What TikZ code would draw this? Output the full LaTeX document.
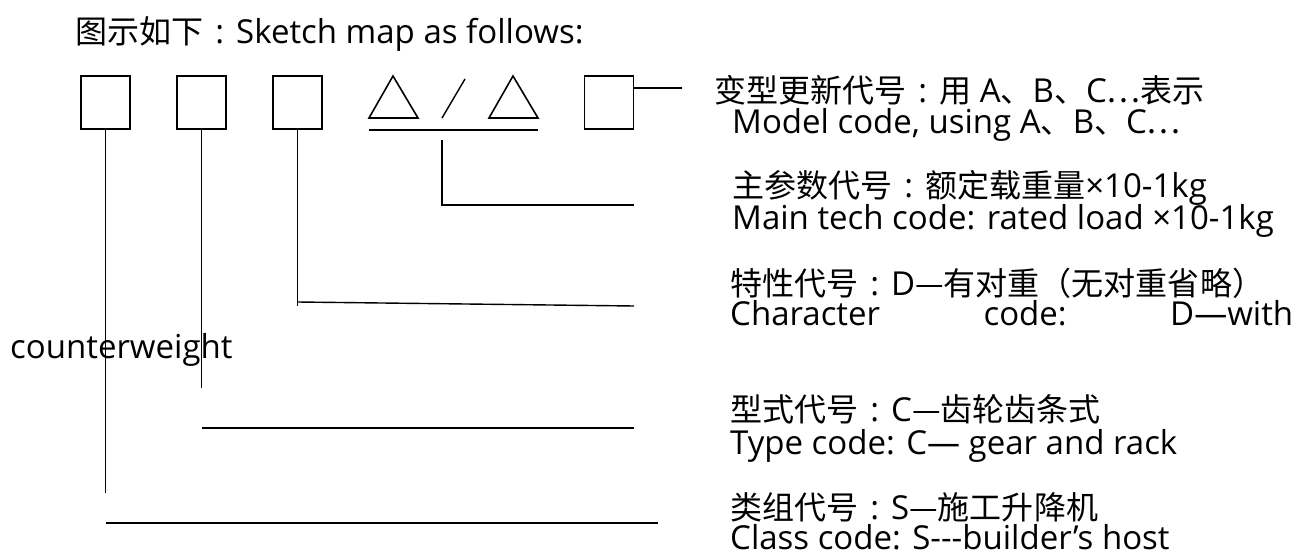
\documentclass[tikz,border=0pt]{standalone}
\usepackage{fontspec}
\setmainfont{Open Sans}
\newfontfamily\cjk{Noto Sans CJK SC}[Scale=0.97]
\newcommand{\cc}{\makebox[1em]{:}}
\begin{document}
\begin{tikzpicture}[x=1pt,y=-1pt,
  codebox/.style={draw,line width=1.6pt,minimum width=49pt,minimum height=53pt,inner sep=0pt},
  lead/.style={line width=1.4pt},
  txt/.style={anchor=base west,inner sep=0pt,font=\fontsize{33}{37}\selectfont}]
\useasboundingbox (0,0) rectangle (1310,556);
% title
\node[txt] (title) at (75,44) {{\cjk 图示如下}\cc Sketch map as follows:};
% code boxes
\node[codebox] (b1) at (105.5,102.5) {};
\node[codebox] (b2) at (201.5,102.5) {};
\node[codebox] (b3) at (297.5,102.5) {};
\node[codebox] (b4) at (609,102.5) {};
% triangles, slash, underline
\draw[line width=1.6pt,line join=miter] (369,118) -- (393,76) -- (418,118) -- cycle;
\draw[line width=1.6pt,line join=miter] (489,118) -- (513,76) -- (538,118) -- cycle;
\draw[lead] (442,118) -- (465,79);
\coordinate (ul1) at (369,130);
\coordinate (ul2) at (538,130);
\draw[line width=1.6pt] (ul1) -- (ul2);
% leader ends
\coordinate (e4) at (682,88);
\coordinate (m1) at (442,140);
\coordinate (m2) at (442,205);
\coordinate (m3) at (634,205);
\coordinate (c2) at (297.5,306);
\coordinate (c3) at (634,306);
\coordinate (c1) at (297.5,302);
\coordinate (d1) at (201.5,388);
\coordinate (d2) at (201.5,428);
\coordinate (d3) at (634,428);
\coordinate (f1) at (105.5,493);
\coordinate (f2) at (105.5,523);
\coordinate (f3) at (658,523);
% connectors
\draw[lead] (b4.east |- e4) -- (e4);
\draw[lead] (m1) -- (m2) -- (m3);
\draw[lead] (b3.south) -- (c2);
\draw[lead] (c1) -- (c3);
\draw[lead] (b2.south) -- (d1);
\draw[lead] (d2) -- (d3);
\draw[lead] (b1.south) -- (f1);
\draw[lead] (f2) -- (f3);
% texts
\node[txt] (l1a) at (714,103) {{\cjk 变型更新代号}\cc{\cjk 用} A{\cjk 、}B{\cjk 、}C{\cjk …表示}};
\node[txt] (l1b) at (732,134) {Model code, using A{\cjk 、}B{\cjk 、}C{\cjk …}};
\node[txt] (l2a) at (732,198) {{\cjk 主参数代号}\cc{\cjk 额定载重量}×10-1kg};
\node[txt] (l2b) at (732,230) {Main tech code: rated load ×10-1kg};
\node[txt] (l3a) at (730,296) {{\cjk 特性代号}\cc D{\cjk —有对重（无对重省略）}};
\node[txt] (l3b) at (730,326) {\hbox to 563pt{Character\hfil code:\hfil D—with}};
\node[txt] (cw) at (10,358) {counterweight};
\node[txt] (l4a) at (730,421) {{\cjk 型式代号}\cc C{\cjk —齿轮齿条式}};
\node[txt] (l4b) at (730,454) {Type code: C— gear and rack};
\node[txt] (l5a) at (730,519) {{\cjk 类组代号}\cc S{\cjk —施工升降机}};
\node[txt] (l5b) at (730,549) {Class code: S-{}-{}-builder’s host};
\end{tikzpicture}
\end{document}
